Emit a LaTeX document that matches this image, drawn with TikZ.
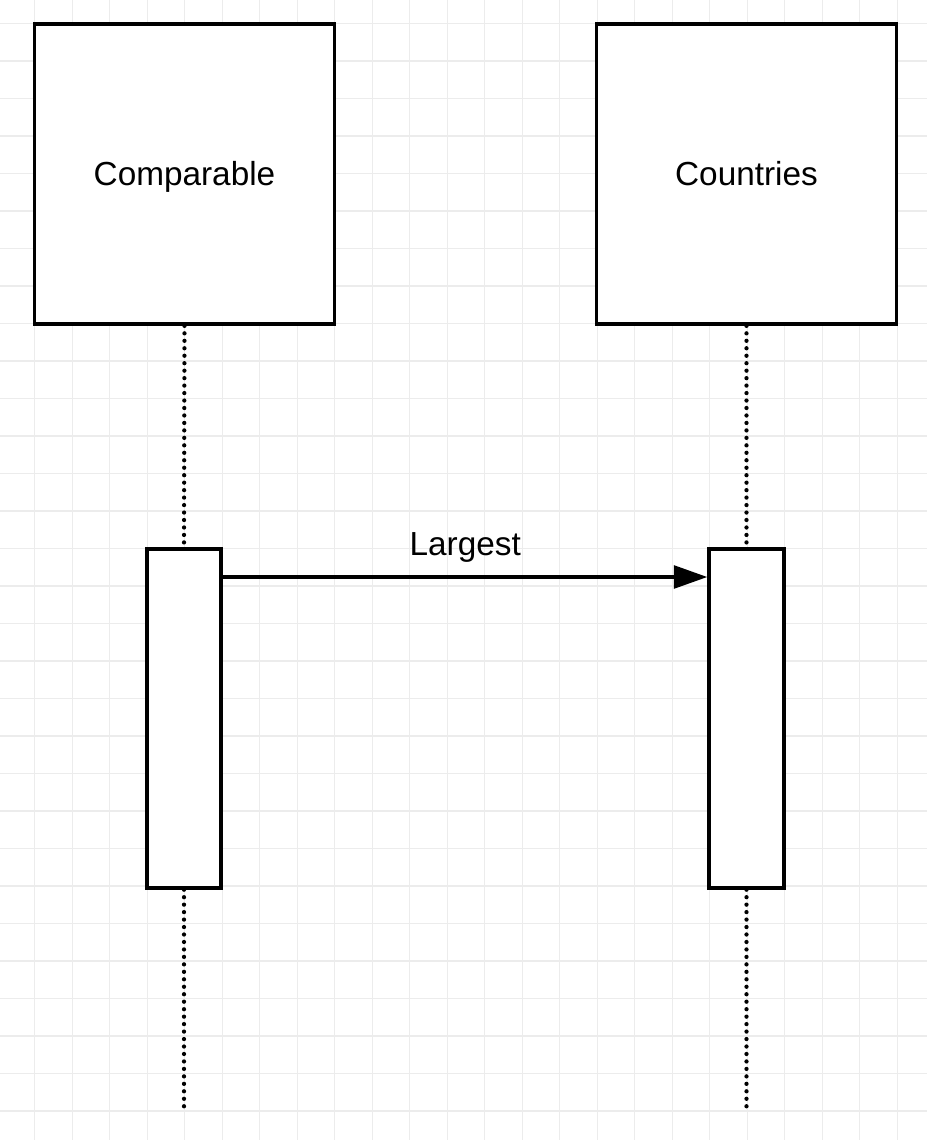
\documentclass[tikz,border=0pt]{standalone}
\usepackage{fontspec}
\setmainfont{Liberation Sans}
\usetikzlibrary{arrows.meta}
\definecolor{gridln}{RGB}{236,236,236}
\tikzset{
  lifehead/.style={draw=black, line width=2.8pt, fill=white, minimum width=225pt, minimum height=225pt, inner sep=0pt, text height=16.5pt, text depth=0pt, font=\fontsize{25pt}{29pt}\selectfont},
  actbox/.style={draw=black, line width=2.8pt, fill=white, minimum width=56pt, minimum height=254pt, inner sep=0pt},
  lifeln/.style={line width=3.2pt, line cap=round, dash pattern=on 0pt off 5.6pt},
  msgln/.style={line width=2.6pt, -{Triangle[length=25pt, width=17pt]}},
  msglbl/.style={font=\fontsize{25pt}{29pt}\selectfont, inner sep=0pt, text depth=0pt}
}
\begin{document}
\begin{tikzpicture}[x=0.75pt, y=-0.75pt]
    \useasboundingbox (0,0) rectangle (927,1140);
    \fill[white] (0,0) rectangle (927,1140);
    % background grid
    \foreach \k in {0,...,23}
      \draw[gridln, line width=0.9pt] (34.7+\k*37.5,0) -- (34.7+\k*37.5,1140);
    \foreach \k in {0,...,29}
      \draw[gridln, line width=0.9pt] (0,23.5+\k*37.5) -- (927,23.5+\k*37.5);
    % lifelines
    \node[lifehead] (comp) at (184.5,174) {Comparable};
    \node[lifehead] (ctry) at (746.5,174) {Countries};
    \node[actbox] (compact) at (184,718.5) {};
    \node[actbox] (ctryact) at (746.5,718.5) {};
    \coordinate (compend) at (184,1108);
    \coordinate (ctryend) at (746.5,1112);
    \draw[lifeln] (comp.south) -- (compact.north);
    \draw[lifeln] (compact.south) -- (compend);
    \draw[lifeln] (ctry.south) -- (ctryact.north);
    \draw[lifeln] (ctryact.south) -- (ctryend);
    % message
    \draw[msgln] (compact.east |- 0,577) -- (ctryact.west |- 0,577) node[msglbl, midway, above=15pt] (lgst) {Largest};
\end{tikzpicture}
\end{document}
